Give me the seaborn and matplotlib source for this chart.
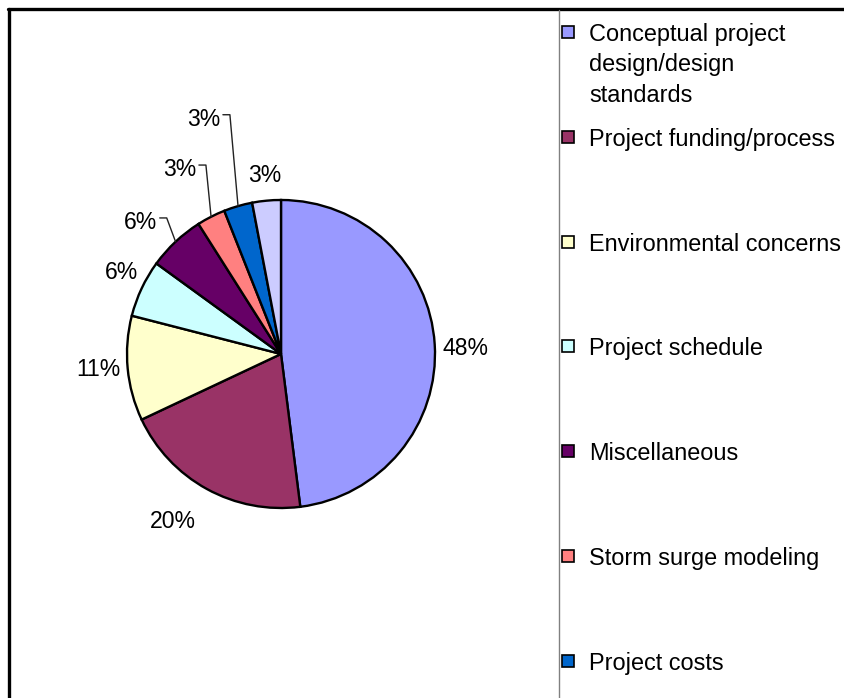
import matplotlib
matplotlib.use("Agg")
import numpy as np
import matplotlib.pyplot as plt
from matplotlib.lines import Line2D
from matplotlib.patches import Rectangle
import seaborn as sns

# ---- data -------------------------------------------------------------
categories = [
    "Conceptual project\ndesign/design\nstandards",
    "Project funding/process",
    "Environmental concerns",
    "Project schedule",
    "Miscellaneous",
    "Storm surge modeling",
    "Project costs",
    "Other",
]
shares = [48, 20, 11, 6, 6, 3, 3, 3]
slice_colors = ["#9999FF", "#993366", "#FFFFCC", "#CCFFFF",
                "#660066", "#FF8080", "#0066CC", "#CCCCFF"]

# ---- layout (pixel units) --------------------------------------------
W, H = 844, 698
CX, CY, R = 281, H - 354, 154
label_radius = [1.20, 1.28, 1.19, 1.17, 1.26, 1.38, 1.62, 1.18]
label_shift_deg = [-1.0, -4.4, -1.3, -2.5, 3.1, 1.4, 1.8, -0.4]
has_leader = [False, False, False, False, True, True, True, False]
FS_PCT = 16.6
FS_LEG = 16.9

sns.set_theme(style="white")
plt.rcParams["font.family"] = ["Liberation Sans", "DejaVu Sans"]

fig = plt.figure(figsize=(W / 100, H / 100), dpi=100)
fig.patch.set_facecolor("white")
ax = fig.add_axes([0, 0, 1, 1])

palette = sns.color_palette(slice_colors)
wedges, _ = ax.pie(
    shares, colors=palette, startangle=90, counterclock=False,
    center=(CX, CY), radius=R, frame=False,
    wedgeprops=dict(edgecolor="black", linewidth=1.7),
)
ax.set_xlim(0, W)
ax.set_ylim(0, H)
ax.set_aspect("equal")
ax.axis("off")

# percentage labels, with elbow leaders for the crowded small slices
for w, v, k, dth, lead in zip(wedges, shares, label_radius, label_shift_deg, has_leader):
    mid = np.deg2rad((w.theta1 + w.theta2) / 2)
    ang = mid + np.deg2rad(dth)
    lx = CX + R * k * np.cos(ang)
    ly = CY + R * k * np.sin(ang)
    ax.text(lx, ly, f"{v}%", ha="center", va="center_baseline",
            fontsize=FS_PCT, color="black")
    if lead:
        ex = CX + R * np.cos(mid)
        ey = CY + R * np.sin(mid)
        ax.add_line(Line2D([lx + 19, lx + 26, ex], [ly + 2, ly + 2, ey],
                           color="#222222", lw=1.0))

# outer chart frame and legend panel
fig.add_artist(Line2D([8 / W, 1], [1 - 9 / H, 1 - 9 / H],
                      transform=fig.transFigure, color="black", lw=2.4))
fig.add_artist(Line2D([9 / W, 9 / W], [0, 1 - 9 / H],
                      transform=fig.transFigure, color="black", lw=2.4))
fig.add_artist(Line2D([558.5 / W, 558.5 / W], [0, 1 - 10 / H],
                      transform=fig.transFigure, color="#808080", lw=1.0))

# legend entries in evenly spaced slots
slot0, slot = 32, 104.8
for i, (cat, col) in enumerate(zip(categories, palette)):
    yc = slot0 + slot * i
    if yc > H - 5:
        continue
    ax.add_patch(Rectangle((562, H - yc - 6), 12, 12, facecolor=col,
                           edgecolor="black", lw=1.2))
    for j, line in enumerate(cat.split("\n")):
        ax.text(589, H - (yc + 30.5 * j), line, ha="left", va="center_baseline",
                fontsize=FS_LEG, color="black")

fig.savefig("out.png", dpi=100, facecolor="white")
